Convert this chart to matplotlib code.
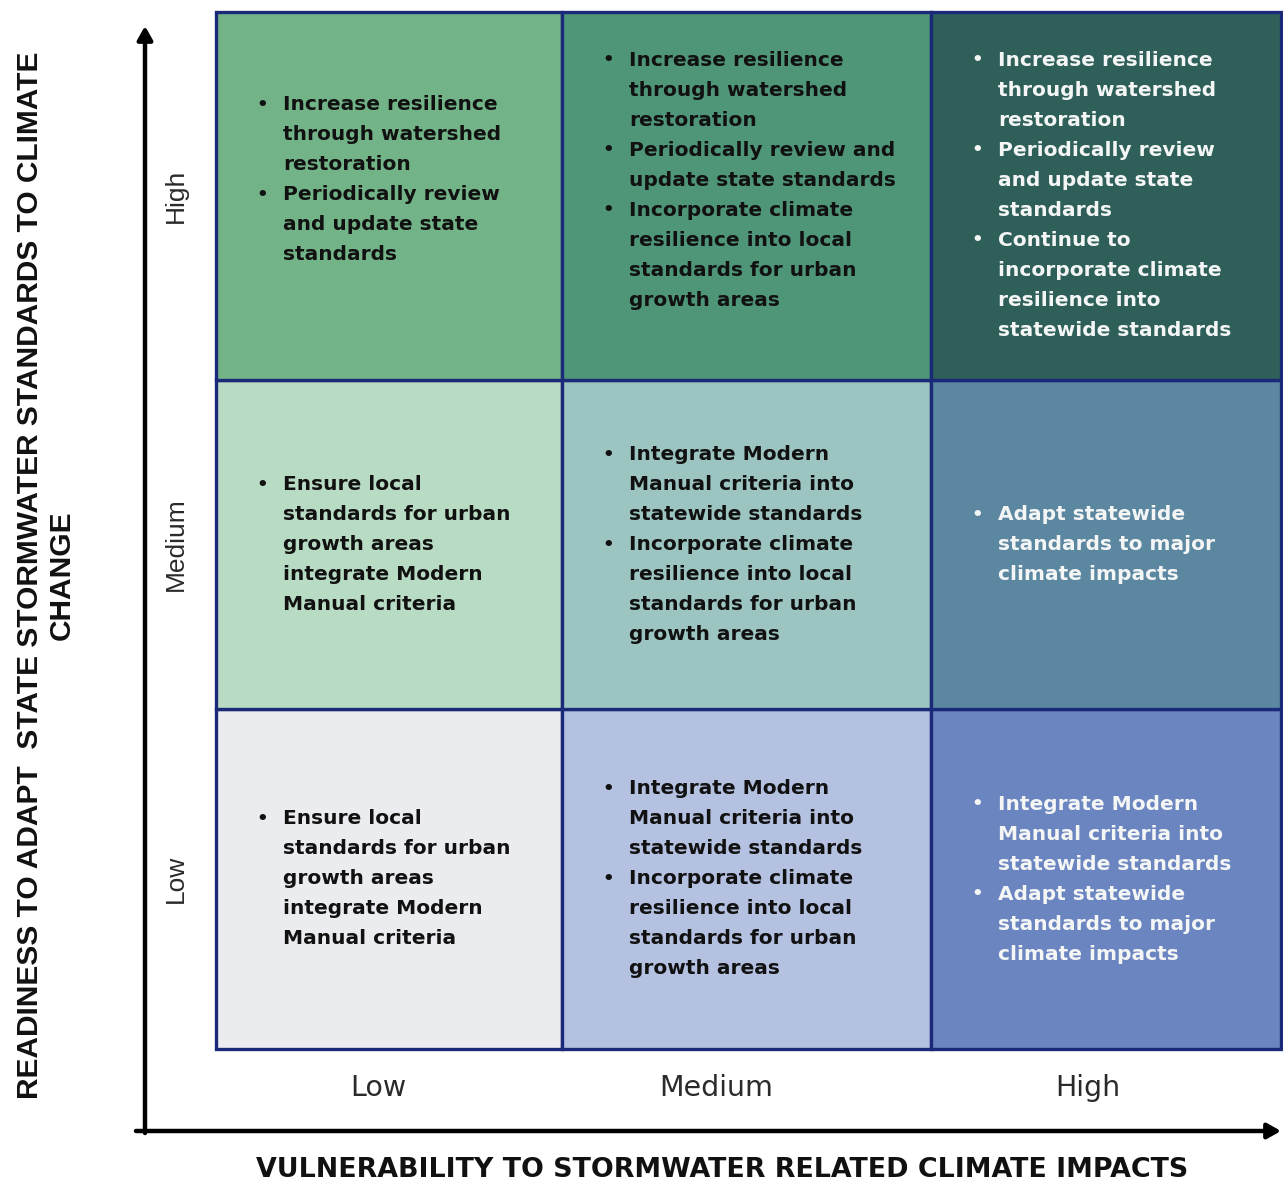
import matplotlib.pyplot as plt
from matplotlib.patches import Rectangle

# categories (rows bottom -> top, columns left -> right)
readiness = ["Low", "Medium", "High"]
vulnerability = ["Low", "Medium", "High"]

# actions per cell, keyed (readiness, vulnerability)
actions = {
    ("High", "Low"): [["Increase resilience", "through watershed", "restoration"],
                      ["Periodically review", "and update state", "standards"]],
    ("High", "Medium"): [["Increase resilience", "through watershed", "restoration"],
                         ["Periodically review and", "update state standards"],
                         ["Incorporate climate", "resilience into local", "standards for urban", "growth areas"]],
    ("High", "High"): [["Increase resilience", "through watershed", "restoration"],
                       ["Periodically review", "and update state", "standards"],
                       ["Continue to", "incorporate climate", "resilience into", "statewide standards"]],
    ("Medium", "Low"): [["Ensure local", "standards for urban", "growth areas", "integrate Modern", "Manual criteria"]],
    ("Medium", "Medium"): [["Integrate Modern", "Manual criteria into", "statewide standards"],
                           ["Incorporate climate", "resilience into local", "standards for urban", "growth areas"]],
    ("Medium", "High"): [["Adapt statewide", "standards to major", "climate impacts"]],
    ("Low", "Low"): [["Ensure local", "standards for urban", "growth areas", "integrate Modern", "Manual criteria"]],
    ("Low", "Medium"): [["Integrate Modern", "Manual criteria into", "statewide standards"],
                        ["Incorporate climate", "resilience into local", "standards for urban", "growth areas"]],
    ("Low", "High"): [["Integrate Modern", "Manual criteria into", "statewide standards"],
                      ["Adapt statewide", "standards to major", "climate impacts"]],
}

cell_colors = {
    ("High", "Low"): "#72b487", ("High", "Medium"): "#4f9679", ("High", "High"): "#2e5f59",
    ("Medium", "Low"): "#b8dcc3", ("Medium", "Medium"): "#9cc5c1", ("Medium", "High"): "#5c87a1",
    ("Low", "Low"): "#ebecef", ("Low", "Medium"): "#b5c1e1", ("Low", "High"): "#6b85c0",
}
text_color = {"Low": "#111111", "Medium": "#111111", "High": "#f4f6f6"}

x_title = "VULNERABILITY TO STORMWATER RELATED CLIMATE IMPACTS"
y_title = "READINESS TO ADAPT  STATE STORMWATER STANDARDS TO CLIMATE\nCHANGE"

# layout (pixels)
W, H = 1283, 1186
col_edges = [216, 562, 931, 1281]
row_edges = [1049, 709, 380, 12]   # bottom -> top
row_nudge = [0, 0, -16]
line_h = 30
body_font = ["DejaVu Sans"]

fig = plt.figure(figsize=(W / 100, H / 100), dpi=100)
ax = fig.add_axes([0, 0, 1, 1])
ax.set_xlim(0, W)
ax.set_ylim(H, 0)
ax.axis("off")

for r, rl in enumerate(readiness):
    for c, vl in enumerate(vulnerability):
        x0, x1 = col_edges[c], col_edges[c + 1]
        y0, y1 = row_edges[r + 1], row_edges[r]
        ax.add_patch(Rectangle((x0, y0), x1 - x0, y1 - y0,
                               facecolor=cell_colors[(rl, vl)],
                               edgecolor="#1b2a78", linewidth=2.4, zorder=1))
        items = actions[(rl, vl)]
        n = sum(len(it) for it in items)
        yc = (y0 + y1) / 2 + row_nudge[r]
        if (rl, vl) == ("High", "High"):
            yc += 15
        y = yc - (n - 1) / 2 * line_h
        col = text_color[vl]
        for it in items:
            ax.text(x0 + 46, y, "•", ha="center", va="center", color=col,
                    fontsize=13, fontweight="bold", family=body_font, zorder=3)
            for ln in it:
                ax.text(x0 + 67, y, ln, ha="left", va="center", color=col,
                        fontsize=14.5, fontweight="bold", family=body_font, zorder=3)
                y += line_h

# axis arrows
ax.annotate("", xy=(145, 26), xytext=(145, 1133),
            arrowprops=dict(arrowstyle="-|>,head_width=0.45,head_length=0.8",
                            color="black", lw=3.2, shrinkA=0, shrinkB=0))
ax.annotate("", xy=(1281, 1131), xytext=(136, 1131),
            arrowprops=dict(arrowstyle="-|>,head_width=0.45,head_length=0.8",
                            color="black", lw=3.2, shrinkA=0, shrinkB=0))

# category labels
x_label_pos = [378, 716, 1088]
for lbl, xp in zip(vulnerability, x_label_pos):
    ax.text(xp, 1088, lbl, ha="center", va="center", fontsize=20.5,
            family=body_font, color="#2a2a2a")
for r, lbl in enumerate(readiness):
    yc = (row_edges[r] + row_edges[r + 1]) / 2
    ax.text(176, yc, lbl, ha="center", va="center", rotation=90, fontsize=19,
            family=["Liberation Sans", "DejaVu Sans"], color="#2a2a2a")

ax.text(722, 1170, x_title, ha="center", va="center", fontsize=19.4,
        fontweight="bold", family=body_font, color="#111111")
ax.text(46, 575, y_title, ha="center", va="center", rotation=90, fontsize=21.5,
        fontweight="bold", family=["Liberation Sans", "DejaVu Sans"],
        color="#111111", linespacing=1.2, multialignment="center")

fig.savefig("out.png", dpi=100)
